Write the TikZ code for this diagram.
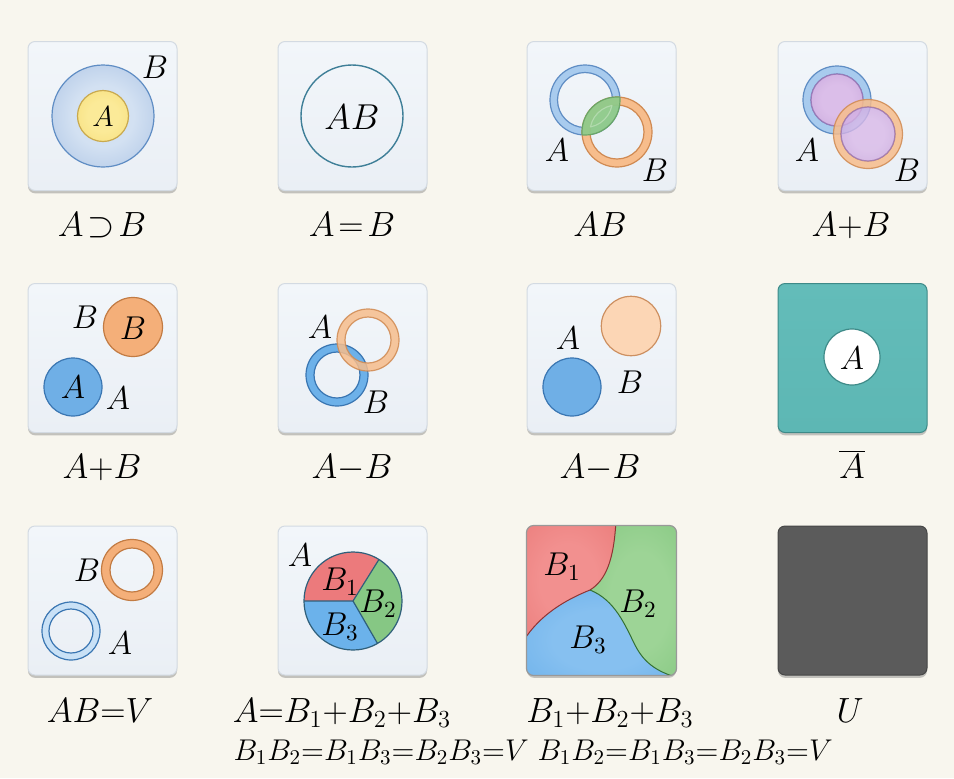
\RequirePackage{fix-cm}
\documentclass[tikz,border=0pt]{standalone}
\usetikzlibrary{shadows}

\definecolor{bgcream}{HTML}{F8F6EE}
\definecolor{panelhi}{HTML}{F2F6FA}
\definecolor{panello}{HTML}{EAEFF5}
\definecolor{panelline}{HTML}{D3DAE2}
\definecolor{bluein}{HTML}{D3E1F2}
\definecolor{blueout}{HTML}{93B1DC}
\definecolor{blueline}{HTML}{5F8DC4}
\definecolor{yellowin}{HTML}{FBEA98}
\definecolor{yellowout}{HTML}{F4D76A}
\definecolor{yellowline}{HTML}{C9A94E}
\definecolor{tealline}{HTML}{3F7F98}
\definecolor{ringblue}{HTML}{A8CBEE}
\definecolor{ringorange}{HTML}{F7BD8C}
\definecolor{orangeline}{HTML}{D08A52}
\definecolor{lensgreen}{HTML}{8FCA8A}
\definecolor{lensline}{HTML}{6BA768}
\definecolor{purplein}{HTML}{D9B9E8}
\definecolor{purpleout}{HTML}{BD93D3}
\definecolor{purpleline}{HTML}{9A77B5}
\definecolor{discorange}{HTML}{F4AF79}
\definecolor{orangeline2}{HTML}{C27B43}
\definecolor{discblue}{HTML}{6FAFE6}
\definecolor{blueline2}{HTML}{3A76B2}
\definecolor{ringblue2}{HTML}{6DB1E9}
\definecolor{peach}{HTML}{FCD6B5}
\definecolor{peachline}{HTML}{CD9061}
\definecolor{tealfill}{HTML}{5DB7B4}
\definecolor{tealhi}{HTML}{63BCB9}
\definecolor{tealdark}{HTML}{3E8A88}
\definecolor{paleblue}{HTML}{C9E1F6}
\definecolor{piered}{HTML}{EC7A7C}
\definecolor{piegreen}{HTML}{86C784}
\definecolor{pieblue}{HTML}{6BB2EB}
\definecolor{pieline}{HTML}{2F5F7A}
\definecolor{redin}{HTML}{F2908F}
\definecolor{redout}{HTML}{E6716F}
\definecolor{greenin}{HTML}{9DD496}
\definecolor{greenout}{HTML}{74BF72}
\definecolor{bluein3}{HTML}{86C0F0}
\definecolor{blueout3}{HTML}{5AA6E6}
\definecolor{greypanel}{HTML}{5B5B5B}
\definecolor{greyline}{HTML}{474747}

\pgfdeclareradialshading[glowin,glowout]{glow}{\pgfpoint{0bp}{0bp}}{color(0bp)=(glowin); color(15bp)=(glowin); color(50bp)=(glowout); color(100bp)=(glowout)}

\tikzset{
  glow/.style 2 args={/utils/exec={\colorlet{glowin}{#1}\colorlet{glowout}{#2}}, shade, shading=glow},
  panel/.style={rectangle, rounded corners=3.5pt, minimum width=74.5pt, minimum height=74.5pt, inner sep=0pt,
    draw=panelline, line width=0.5pt, top color=panelhi, bottom color=panello,
    drop shadow={shadow xshift=0pt, shadow yshift=-1.4pt, opacity=0.4, fill=black!55}},
  ring/.style 2 args={fill=#1, draw=#2, even odd rule, line width=0.6pt},
  lab/.style={font=\fontsize{16.5}{19}\selectfont, inner sep=0pt},
  capt/.style={font=\fontsize{17.5}{20}\selectfont, inner sep=0pt, anchor=base},
  eqs/.style={font=\fontsize{15}{18}\selectfont, inner sep=0pt, anchor=base west}
}

\begin{document}
\begin{tikzpicture}[x=0.5pt, y=-0.5pt, line width=0.6pt]
\useasboundingbox (0,0) rectangle (954,778);
\fill[bgcream] (0,0) rectangle (954,778);

% row 1
\node[panel] (p1) at (102.5,116) {};
\node[panel] (p2) at (352.5,116) {};
\node[panel] (p3) at (601.5,116) {};
\node[panel] (p4) at (852.5,116) {};

\draw[glow={bluein}{blueout}, draw=blueline] (103,116) circle (51);
\draw[glow={yellowin}{yellowout}, draw=yellowline] (103,116) circle (25.5);
\node[lab, font=\fontsize{14.5}{17}\selectfont] (a1) at (103,117) {$A$};
\node[lab] (b1) at (155,67) {$B$};
\node[capt] (c1) at (102,236) {$A\!\supset\!B$};

\draw[tealline, line width=0.7pt] (352,116) circle (51);
\node[lab, font=\fontsize{18}{21}\selectfont] (ab2) at (352,117) {$AB$};
\node[capt] (c2) at (352,236) {$A\!=\!B$};

\draw[ring={ringblue}{blueline}] (585,100) circle (35) (585,100) circle (27.5);
\draw[ring={ringorange}{orangeline}] (617,132) circle (35) (617,132) circle (27);
\begin{scope}
  \clip (585,100) circle (35);
  \fill[lensgreen, opacity=0.95] (617,132) circle (35);
  \draw[lensline] (617,132) circle (35);
  \clip (617,132) circle (27);
  \draw[lensgreen!70!white] (585,100) circle (27.5);
\end{scope}
\begin{scope}
  \clip (617,132) circle (35);
  \draw[lensline] (585,100) circle (35);
  \clip (585,100) circle (27.5);
  \draw[lensgreen!70!white] (617,132) circle (27);
\end{scope}
\node[lab] (a3) at (557,150) {$A$};
\node[lab] (b3) at (655,170) {$B$};
\node[capt] (c3) at (600,236) {$AB$};

\draw[ring={ringblue}{blueline}] (837,100) circle (34) (837,100) circle (26);
\draw[glow={purplein}{purpleout}, draw=purpleline, opacity=0.9] (837,100) circle (26);
\draw[ring={ringorange}{orangeline}, opacity=0.85] (868,134) circle (34.5) (868,134) circle (27);
\draw[glow={purplein}{purpleout}, draw=purpleline, opacity=0.8] (868,134) circle (27);
\node[lab] (a4) at (807,150) {$A$};
\node[lab] (b4) at (907,170) {$B$};
\node[capt] (c4) at (851,236) {$A{+}B$};

% row 2
\node[panel] (p5) at (102.5,358) {};
\node[panel] (p6) at (352.5,358) {};
\node[panel] (p7) at (601.5,358) {};
\node[panel, top color=tealhi, bottom color=tealfill, draw=tealdark] (p8) at (852.5,358) {};

\draw[fill=discorange, draw=orangeline2] (133,327) circle (29.5);
\draw[fill=discblue, draw=blueline2] (73,387) circle (29);
\node[lab] (b5in) at (133,328) {$B$};
\node[lab] (b5) at (85,317) {$B$};
\node[lab] (a5in) at (73,387) {$A$};
\node[lab] (a5) at (118,398) {$A$};
\node[capt] (c5) at (102,478) {$A{+}B$};

\draw[ring={ringblue2}{blueline2}] (337,375) circle (31) (337,375) circle (23);
\draw[ring={ringorange}{orangeline}, opacity=0.85] (368,340) circle (31) (368,340) circle (23);
\node[lab] (a6) at (320,327) {$A$};
\node[lab] (b6) at (376,402) {$B$};
\node[capt] (c6) at (352,478) {$A{-}B$};

\draw[fill=peach, draw=peachline] (631,326) circle (29.7);
\draw[fill=discblue, draw=blueline2] (572,387) circle (29);
\node[lab] (a7) at (568,338) {$A$};
\node[lab] (b7) at (630,382) {$B$};
\node[capt] (c7) at (600,478) {$A{-}B$};

\draw[fill=white, draw=tealdark] (852,357) circle (28);
\node[lab] (a8) at (852,358) {$A$};
\node[capt] (c8) at (852,478) {$\overline{A}$};

% row 3
\node[panel] (p9) at (102.5,600.5) {};
\node[panel] (p10) at (352.5,600.5) {};
\node[panel, draw=black!45] (p11) at (601.5,600.5) {};
\node[panel, top color=greypanel, bottom color=greypanel, draw=greyline] (p12) at (852.5,600.5) {};

\draw[ring={discorange}{orangeline2}] (132,570) circle (30.5) (132,570) circle (22);
\draw[ring={paleblue}{blueline2}] (71,631) circle (29) (71,631) circle (22);
\node[lab] (b9) at (87,570) {$B$};
\node[lab] (a9) at (120,643) {$A$};
\node[capt] (c9) at (100,722) {$AB{=}V$};

\fill[piered] (353,601) -- ++(-58:49) arc[start angle=-58, end angle=-180, radius=49] -- cycle;
\fill[piegreen] (353,601) -- ++(60:49) arc[start angle=60, end angle=-58, radius=49] -- cycle;
\fill[pieblue] (353,601) -- ++(180:49) arc[start angle=180, end angle=60, radius=49] -- cycle;
\draw[pieline] (353,601) circle (49);
\draw[pieline] (353,601) -- ++(-58:49) (353,601) -- ++(60:49) (353,601) -- ++(180:49);
\node[lab] (a10) at (300,555) {$A$};
\node[lab] (b10a) at (340,582) {$B_1$};
\node[lab] (b10b) at (378,604) {$B_2$};
\node[lab] (b10c) at (340,627) {$B_3$};
\node[capt] (c10) at (342,722) {$A{=}B_1{+}B_2{+}B_3$};
\node[eqs] (d10) at (233,760) {$B_1B_2{=}B_1B_3{=}B_2B_3{=}V$};

\begin{scope}
  \clip[rounded corners=3.5pt] (p11.south west) rectangle (p11.north east);
  \path[glow={redin}{redout}] (520,520) -- (616,520) .. controls (614,560) and (606,580) .. (590,590)
    .. controls (565,600) and (540,615) .. (524,640) -- (520,640) -- cycle;
  \path[glow={greenin}{greenout}] (616,520) -- (690,520) -- (690,682) -- (682,679)
    .. controls (660,673) and (645,665) .. (635,645) .. controls (625,625) and (615,600) .. (590,590)
    .. controls (606,580) and (614,560) .. (616,520) -- cycle;
  \path[glow={bluein3}{blueout3}] (520,640) -- (524,640) .. controls (540,615) and (565,600) .. (590,590)
    .. controls (615,600) and (625,625) .. (635,645) .. controls (645,665) and (660,673) .. (682,679)
    -- (682,690) -- (520,690) -- cycle;
  \draw[red!45!black!80, line width=0.5pt] (616,520) .. controls (614,560) and (606,580) .. (590,590)
    .. controls (565,600) and (540,615) .. (524,640);
  \draw[green!30!black!80, line width=0.5pt] (590,590) .. controls (615,600) and (625,625) .. (635,645)
    .. controls (645,665) and (660,673) .. (682,679);
\end{scope}
\draw[black!40, line width=0.6pt, rounded corners=3.5pt] (p11.south west) rectangle (p11.north east);
\node[lab] (b11a) at (562,567) {$B_1$};
\node[lab] (b11b) at (638,604) {$B_2$};
\node[lab] (b11c) at (588,640) {$B_3$};
\node[capt] (c11) at (610,722) {$B_1{+}B_2{+}B_3$};
\node[eqs] (d11) at (537,760) {$B_1B_2{=}B_1B_3{=}B_2B_3{=}V$};

\node[capt] (c12) at (850,722) {$U$};
\end{tikzpicture}
\end{document}
